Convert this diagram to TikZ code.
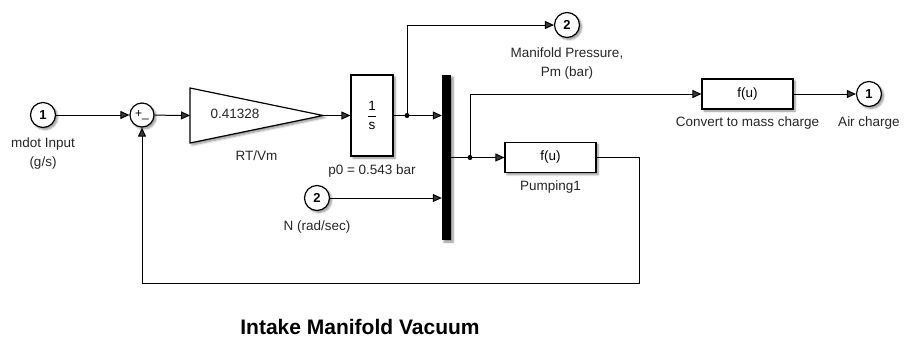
\documentclass[tikz,border=0pt]{standalone}
\usepackage{amsmath}
\usepackage{fontspec}
\setmainfont{Liberation Sans}
\usepackage{tikz}
\usetikzlibrary{arrows.meta, positioning, shadows.blur}

\begin{document}
\begin{tikzpicture}[
  x=1pt, y=-1pt,
  shade/.style={blur shadow={shadow xshift=2pt, shadow yshift=-2pt,
                shadow blur steps=6, shadow opacity=45}},
  block/.style={rectangle, draw, line width=1.2pt, fill=white, inner sep=0pt,
                minimum width=91pt, minimum height=30pt,
                font=\fontsize{13.5}{16}\selectfont, shade},
  port/.style={circle, draw, line width=1.2pt, fill=white, inner sep=0pt,
               minimum size=25pt, font=\bfseries\fontsize{13}{15}\selectfont, shade},
  sumnode/.style={port, minimum size=24pt, font=\fontsize{12}{14}\selectfont},
  muxbar/.style={rectangle, fill=black, inner sep=0pt, minimum width=9pt,
                 minimum height=165pt, shade},
  lbl/.style={align=center, inner sep=0pt, text=black!85,
              font=\fontsize{13.5}{19}\selectfont},
  arr/.style={-{Triangle[length=9pt, width=8pt]}, line width=1pt},
  node distance=9pt
]
  \useasboundingbox (0,0) rectangle (905,338);

  % inputs and sum
  \node[port] (in1) at (43,115) {1};
  \node[lbl, below=of in1] (in1 lbl) {mdot Input\\(g/s)};
  \node[sumnode] (sum) at (142,115) {+\_};

  % gain
  \coordinate (gain in) at (190,115.5);
  \coordinate (gain out) at (323,115.5);
  \coordinate (gain base) at (256.5,143);
  \draw[line width=1.2pt, fill=white, shade] (190,88) -- (gain out) -- (190,143) -- cycle;
  \node[lbl] (gain val) at (235,114) {0.41328};
  \node[lbl, below=8pt of gain base] (gain lbl) {RT/Vm};

  % integrator
  \node[block, minimum width=42pt, minimum height=81pt] (integ) at (372,115.5)
    {$\dfrac{\text{1}}{\text{s}}$};
  \node[lbl, below=8pt of integ] (integ lbl) {p0 = 0.543 bar};
  \coordinate (br1) at (407,115.5);

  % outputs, mux
  \node[port] (out2) at (567,25) {2};
  \node[lbl, below=of out2] (out2 lbl) {Manifold Pressure,\\Pm (bar)};
  \node[muxbar] (mux) at (446.5,157.5) {};
  \node[port] (nin) at (317,198) {2};
  \node[lbl, below=of nin] (nin lbl) {N (rad/sec)};
  \coordinate (br2) at (470,157.5);

  \node[block] (pump) at (550.5,157.5) {f(u)};
  \node[lbl, below=7pt of pump] (pump lbl) {Pumping1};
  \node[block] (conv) at (747.5,94) {f(u)};
  \node[lbl, below=7pt of conv] (conv lbl) {Convert to mass  charge};
  \node[port] (out1) at (869,94) {1};
  \node[lbl, below=of out1] (out1 lbl) {Air charge};
  \coordinate (fb) at (639,283);

  \node[font=\bfseries\fontsize{21}{25}\selectfont] (title) at (360,327)
    {Intake Manifold Vacuum};

  % signals
  \draw[arr] (in1) -- (sum);
  \draw[arr] (sum) -- (gain in);
  \draw[arr] (gain out) -- (integ);
  \draw[arr] (integ) -- (integ -| mux.west);
  \draw[arr] (br1) |- (out2);
  \fill (br1) circle (2.5pt);
  \draw[arr] (nin) -- (nin -| mux.west);
  \draw[arr] (mux.east) -- (pump);
  \draw[arr] (br2) |- (conv);
  \fill (br2) circle (2.5pt);
  \draw[arr] (conv) -- (out1);
  \draw[arr] (pump) -| (fb) -| (sum);
\end{tikzpicture}
\end{document}
